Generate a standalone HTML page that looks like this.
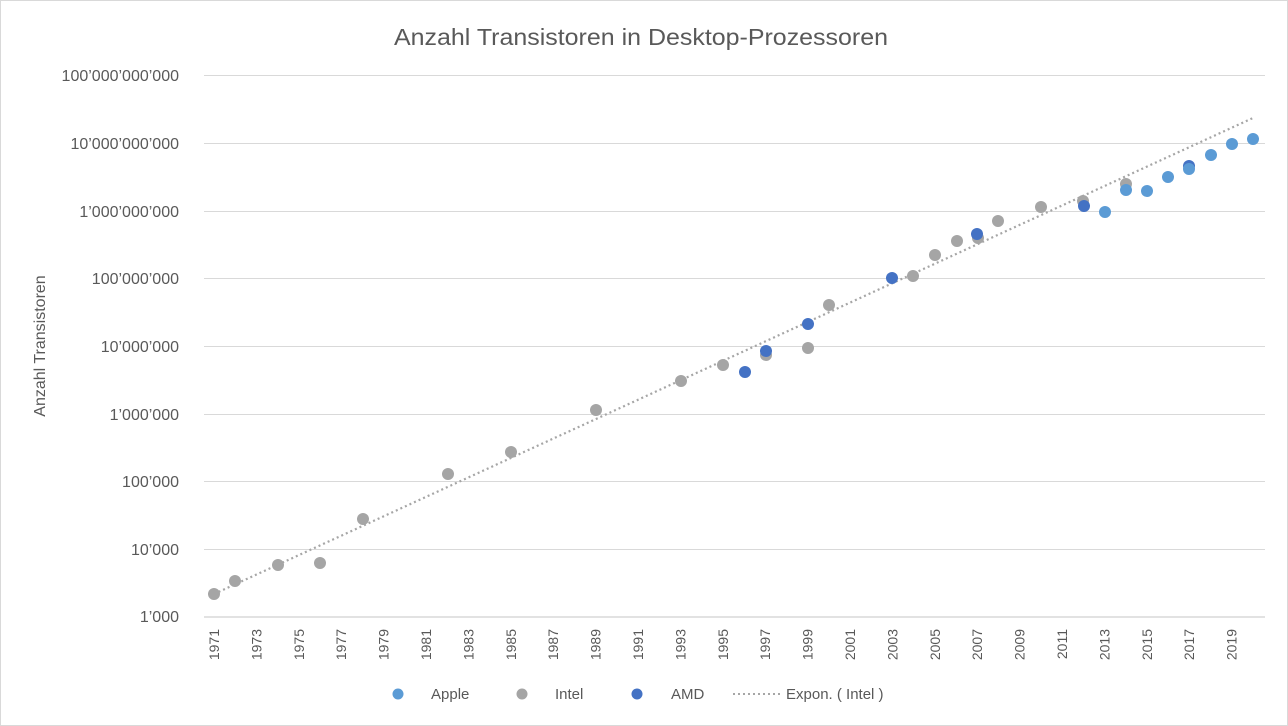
<!DOCTYPE html>
<html><head><meta charset="utf-8"><style>
html,body{margin:0;padding:0;background:#fff}
svg{display:block;font-family:"Liberation Sans",sans-serif}
</style></head><body>
<svg width="1288" height="726" viewBox="0 0 1288 726">
<rect x="0.5" y="0.5" width="1287" height="725" fill="#fff" stroke="#d9d9d9"/>
<text x="394" y="45" font-size="23" fill="#595959" textLength="494" lengthAdjust="spacingAndGlyphs">Anzahl Transistoren in Desktop-Prozessoren</text>
<g stroke="#d9d9d9" stroke-width="1">
<line x1="204" x2="1265" y1="75.5" y2="75.5"/><line x1="204" x2="1265" y1="143.5" y2="143.5"/>
<line x1="204" x2="1265" y1="211.5" y2="211.5"/><line x1="204" x2="1265" y1="278.5" y2="278.5"/>
<line x1="204" x2="1265" y1="346.5" y2="346.5"/><line x1="204" x2="1265" y1="414.5" y2="414.5"/>
<line x1="204" x2="1265" y1="481.5" y2="481.5"/><line x1="204" x2="1265" y1="549.5" y2="549.5"/>
<line x1="204" x2="1265" y1="617" y2="617" stroke-width="1.5"/>
</g>
<g font-size="16" fill="#595959" text-anchor="end">
<text x="179" y="81">100’000’000’000</text><text x="179" y="149">10’000’000’000</text>
<text x="179" y="217">1’000’000’000</text><text x="179" y="284">100’000’000</text>
<text x="179" y="352">10’000’000</text><text x="179" y="420">1’000’000</text>
<text x="179" y="487">100’000</text><text x="179" y="555">10’000</text><text x="179" y="622">1’000</text>
</g>
<text transform="translate(45,346) rotate(-90)" text-anchor="middle" font-size="16" fill="#595959">Anzahl Transistoren</text>
<g font-size="14" fill="#595959" text-anchor="end">
<text transform="translate(219,629) rotate(-90)">1971</text>
<text transform="translate(261.4,629) rotate(-90)">1973</text>
<text transform="translate(303.8,629) rotate(-90)">1975</text>
<text transform="translate(346.2,629) rotate(-90)">1977</text>
<text transform="translate(388.6,629) rotate(-90)">1979</text>
<text transform="translate(431,629) rotate(-90)">1981</text>
<text transform="translate(473.4,629) rotate(-90)">1983</text>
<text transform="translate(515.8,629) rotate(-90)">1985</text>
<text transform="translate(558.2,629) rotate(-90)">1987</text>
<text transform="translate(600.6,629) rotate(-90)">1989</text>
<text transform="translate(643,629) rotate(-90)">1991</text>
<text transform="translate(685.4,629) rotate(-90)">1993</text>
<text transform="translate(727.8,629) rotate(-90)">1995</text>
<text transform="translate(770.2,629) rotate(-90)">1997</text>
<text transform="translate(812.6,629) rotate(-90)">1999</text>
<text transform="translate(855,629) rotate(-90)">2001</text>
<text transform="translate(897.4,629) rotate(-90)">2003</text>
<text transform="translate(939.8,629) rotate(-90)">2005</text>
<text transform="translate(982.2,629) rotate(-90)">2007</text>
<text transform="translate(1024.6,629) rotate(-90)">2009</text>
<text transform="translate(1067,629) rotate(-90)">2011</text>
<text transform="translate(1109.4,629) rotate(-90)">2013</text>
<text transform="translate(1151.8,629) rotate(-90)">2015</text>
<text transform="translate(1194.2,629) rotate(-90)">2017</text>
<text transform="translate(1236.6,629) rotate(-90)">2019</text>
</g>
<line x1="214" y1="594" x2="1253" y2="118" stroke="#a6a6a6" stroke-width="2.2" stroke-dasharray="2 3"/>
<g fill="#a5a5a5">
<circle cx="214" cy="594" r="6"/><circle cx="235" cy="581" r="6"/><circle cx="278" cy="565" r="6"/><circle cx="320" cy="563" r="6"/><circle cx="363" cy="519" r="6"/><circle cx="448" cy="474" r="6"/><circle cx="511" cy="452" r="6"/><circle cx="596" cy="410" r="6"/><circle cx="681" cy="381" r="6"/><circle cx="723" cy="365" r="6"/><circle cx="766" cy="355" r="6"/><circle cx="808" cy="348" r="6"/><circle cx="829" cy="305" r="6"/><circle cx="913" cy="276" r="6"/><circle cx="935" cy="255" r="6"/><circle cx="957" cy="241" r="6"/><circle cx="978" cy="238" r="6"/><circle cx="998" cy="221" r="6"/><circle cx="1041" cy="207" r="6"/><circle cx="1083" cy="201" r="6"/><circle cx="1126" cy="184" r="6"/>
</g>
<g fill="#4472c4">
<circle cx="745" cy="372" r="6"/><circle cx="766" cy="351" r="6"/><circle cx="808" cy="324" r="6"/><circle cx="892" cy="278" r="6"/><circle cx="977" cy="234" r="6"/><circle cx="1084" cy="206" r="6"/><circle cx="1189" cy="166" r="6"/>
</g>
<g fill="#5b9bd5">
<circle cx="1105" cy="212" r="6"/><circle cx="1126" cy="190" r="6"/><circle cx="1147" cy="191" r="6"/><circle cx="1168" cy="177" r="6"/><circle cx="1189" cy="169" r="6"/><circle cx="1211" cy="155" r="6"/><circle cx="1232" cy="144" r="6"/><circle cx="1253" cy="139" r="6"/>
</g>
<g font-size="15" fill="#595959">
<circle cx="398" cy="694" r="5.5" fill="#5b9bd5"/><text x="431" y="699">Apple</text>
<circle cx="522" cy="694" r="5.5" fill="#a5a5a5"/><text x="555" y="699">Intel</text>
<circle cx="637" cy="694" r="5.5" fill="#4472c4"/><text x="671" y="699">AMD</text>
<line x1="733" y1="694" x2="781" y2="694" stroke="#a6a6a6" stroke-width="2" stroke-dasharray="2 3"/>
<text x="786" y="699">Expon. ( Intel )</text>
</g>
</svg>
</body></html>
